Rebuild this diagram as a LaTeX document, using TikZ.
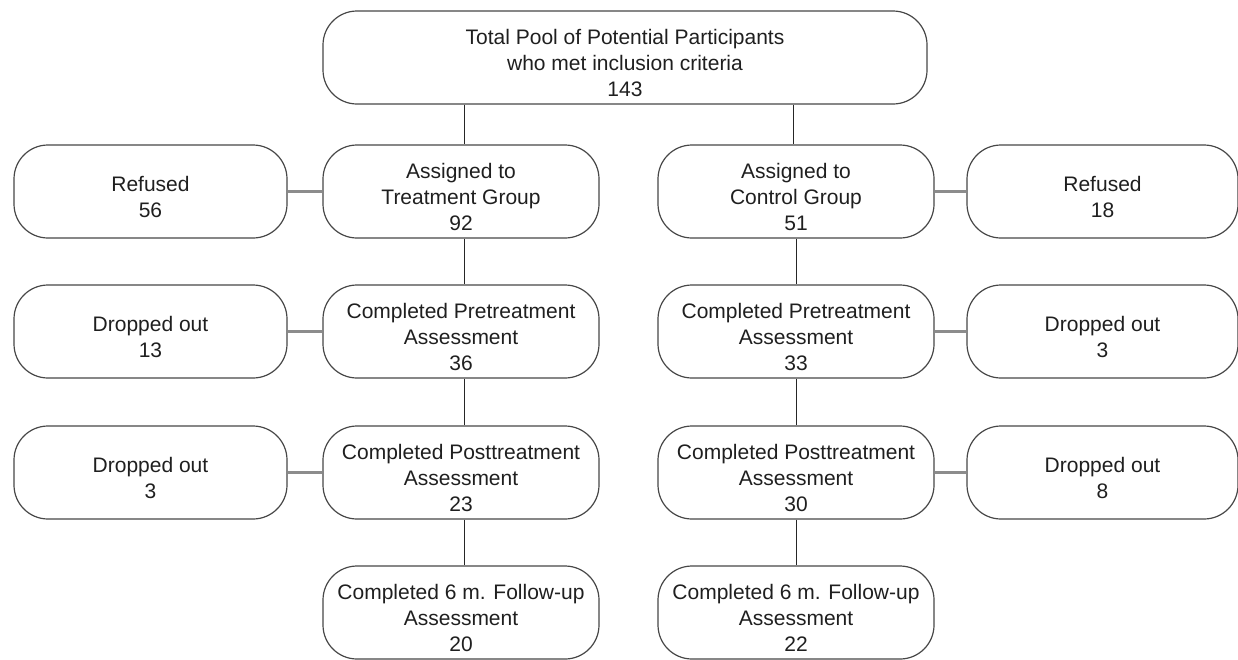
\documentclass[tikz,border=0pt]{standalone}
\usepackage{fontspec}
\setmainfont{Liberation Sans}
\newcommand\lowtext[1]{\raisebox{-7.5pt}[\height][\depth]{\begin{tabular}{@{}c@{}}#1\end{tabular}}}
\begin{document}
\begin{tikzpicture}[x=1pt,y=-1pt,
  box/.style={draw=black!72, line width=1.2pt, rounded corners=34pt, align=center,
    text=black!88, font=\fontsize{21}{26}\selectfont, inner sep=0pt},
  colbox/.style={box, minimum width=276pt, minimum height=93pt},
  sidebox/.style={box, minimum width=273pt, minimum height=93pt},
  vline/.style={draw=black!85, line width=1pt},
  hline/.style={draw=black!45, line width=2.6pt}]
\useasboundingbox (0,0) rectangle (1238,659);
\node[box, minimum width=604pt, minimum height=93pt] (top) at (625,57.5)
  {\lowtext{Total Pool of Potential Participants\\who met inclusion criteria\\143}};
% treatment column
\node[colbox] (t1) at (461,191.5) {\lowtext{Assigned to\\Treatment Group\\92}};
\node[colbox] (t2) at (461,331.5) {\lowtext{Completed Pretreatment\\Assessment\\36}};
\node[colbox] (t3) at (461,472.5) {\lowtext{Completed Posttreatment\\Assessment\\23}};
\node[colbox] (t4) at (461,612.5) {\lowtext{Completed 6 m. Follow-up\\Assessment\\20}};
% control column
\node[colbox] (c1) at (796,191.5) {\lowtext{Assigned to\\Control Group\\51}};
\node[colbox] (c2) at (796,331.5) {\lowtext{Completed Pretreatment\\Assessment\\33}};
\node[colbox] (c3) at (796,472.5) {\lowtext{Completed Posttreatment\\Assessment\\30}};
\node[colbox] (c4) at (796,612.5) {\lowtext{Completed 6 m. Follow-up\\Assessment\\22}};
% left side
\node[sidebox] (l1) at (150.5,191.5) {\lowtext{Refused\\56}};
\node[sidebox] (l2) at (150.5,331.5) {\lowtext{Dropped out\\13}};
\node[sidebox] (l3) at (150.5,472.5) {\lowtext{Dropped out\\3}};
% right side
\node[sidebox, minimum width=271pt] (r1) at (1102.5,191.5) {\lowtext{Refused\\18}};
\node[sidebox, minimum width=271pt] (r2) at (1102.5,331.5) {\lowtext{Dropped out\\3}};
\node[sidebox, minimum width=271pt] (r3) at (1102.5,472.5) {\lowtext{Dropped out\\8}};
% vertical connectors
\draw[vline] ([xshift=3pt]top.south -| t1) -- ([xshift=3pt]t1.north);
\draw[vline] ([xshift=-3pt]top.south -| c1) -- ([xshift=-3pt]c1.north);
\draw[vline] ([xshift=3pt]t1.south) -- ([xshift=3pt]t2.north);
\draw[vline] ([xshift=3pt]t2.south) -- ([xshift=3pt]t3.north);
\draw[vline] ([xshift=3pt]t3.south) -- ([xshift=3pt]t4.north);
\draw[vline] (c1.south) -- (c2.north);
\draw[vline] (c2.south) -- (c3.north);
\draw[vline] (c3.south) -- (c4.north);
% side connectors
\draw[hline] (l1.east) -- (t1.west);
\draw[hline] (l2.east) -- (t2.west);
\draw[hline] (l3.east) -- (t3.west);
\draw[hline] (c1.east) -- (r1.west);
\draw[hline] (c2.east) -- (r2.west);
\draw[hline] (c3.east) -- (r3.west);
\end{tikzpicture}
\end{document}
